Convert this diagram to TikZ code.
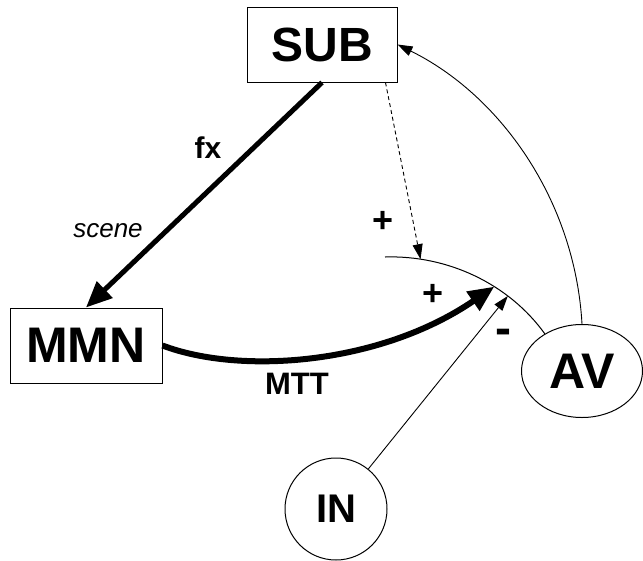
\documentclass[tikz,border=0pt]{standalone}
\usepackage{fontspec}
\setmainfont{Liberation Sans}
\usetikzlibrary{shapes.geometric,arrows.meta}

\newcommand{\fsz}[1]{\fontsize{#1}{#1}\selectfont}

\begin{document}
\begin{tikzpicture}[x=1pt,y=-1pt,line width=1pt,
    block/.style={draw, rectangle, minimum width=150pt, minimum height=75pt, inner sep=0pt},
    bigtip/.style={-{Triangle[length=26pt,width=22pt]}, line width=5pt},
    smalltip/.style={-{Triangle[length=15pt,width=10pt]}, line width=0.9pt},
    lbl/.style={font=\bfseries}]
  \useasboundingbox (0,0) rectangle (643,560);

  \node[block, font=\fsz{48}\bfseries]                   (SUB) at (322,44.5)  {SUB};
  \node[block, minimum width=152pt, font=\fsz{50}\bfseries] (MMN) at (86,345.5) {MMN};
  \node[draw, ellipse, minimum width=121pt, minimum height=93pt, inner sep=0pt,
        font=\fsz{50}\bfseries]                            (AV)  at (582,371)   {AV};
  \node[draw, circle, minimum size=102pt, inner sep=0pt,
        font=\fsz{40}\bfseries]                            (IN)  at (336,509)   {IN};

  % summing curve
  \coordinate (sumL) at (385,257);
  \draw (sumL) .. controls (448,255) and (509,284) .. (AV.135)
    coordinate[pos=0.19] (dashTip)
    coordinate[pos=0.62] (plusTip)
    coordinate[pos=0.71] (minusTip);

  \draw[bigtip] (SUB.south) -- (MMN.north);
  \draw[bigtip, line width=6pt] (MMN.east) .. controls (240,375) and (380,365) .. (plusTip);
  \draw[smalltip, dashed, dash pattern=on 4pt off 3pt] ([xshift=-12pt]SUB.south east) -- (dashTip);
  \draw[smalltip] (IN) -- (minusTip);
  \draw[smalltip] (AV.north) .. controls (575,200) and (500,95) .. (SUB.east);

  % labels
  \node[lbl, font=\fsz{30}\bfseries, anchor=base] (fxL)    at (208,158) {fx};
  \node[font=\fsz{26}\itshape, anchor=base]       (sceneL) at (108,237) {scene};
  \node[lbl, font=\fsz{36}\bfseries]              (plusA)  at (383,222) {+};
  \node[lbl, font=\fsz{36}\bfseries]              (plusB)  at (433,295) {+};
  \node[lbl, font=\fsz{48}\bfseries, anchor=base] (minusC) at (503,344) {-};
  \node[lbl, font=\fsz{31}\bfseries]              (mttL)   at (297,384) {MTT};
\end{tikzpicture}
\end{document}
